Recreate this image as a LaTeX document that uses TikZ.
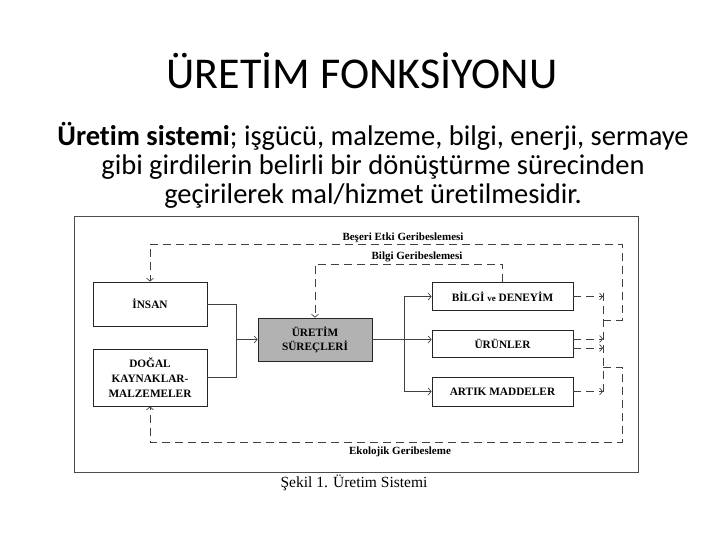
\documentclass[tikz,border=0pt]{standalone}
\usepackage{fontspec}
\setmainfont{Liberation Serif}
\newfontfamily\slidefont[Ligatures=NoCommon]{Carlito}
\usepackage{tikz}
\usetikzlibrary{arrows.meta,positioning}

\begin{document}
\begin{tikzpicture}[x=1pt, y=-1pt,
    box/.style={rectangle, draw=black!85, line width=0.8pt, minimum width=114pt, align=center, inner sep=0pt, font=\bfseries\fontsize{11.3}{15}\selectfont},
    outbox/.style={box, minimum width=141pt, minimum height=28pt},
    arr/.style={-{Straight Barb[length=3pt,width=7pt]}, draw=black!75, line width=0.7pt},
    fb/.style={arr, dash pattern=on 8pt off 5pt},
    fbline/.style={draw=black!75, line width=0.7pt, dash pattern=on 8pt off 5pt},
    lbl/.style={font=\bfseries\fontsize{11}{12}\selectfont}
]
\useasboundingbox (0,0) rectangle (720,540);

% slide text
\node[font=\slidefont\fontsize{44}{50}\selectfont] (title) at (362,71) {ÜRETİM FONKSİYONU};
\node[font=\slidefont\fontsize{28.5}{29}\selectfont, align=center] (body) at (373,165)
  {\textbf{Üretim sistemi}; işgücü, malzeme, bilgi, enerji, sermaye\\
   gibi girdilerin belirli bir dönüştürme sürecinden\\
   geçirilerek mal/hizmet üretilmesidir.};

% figure frame
\draw[black!70, line width=1pt] (74,217) rectangle (638,472);

% inputs, process, outputs
\node[box, minimum height=44pt] (insan) at (150,304) {İNSAN};
\node[box, minimum height=57pt] (dogal) at (150,377.5) {DOĞAL\\KAYNAKLAR-\\MALZEMELER};
\node[box, minimum height=43pt, fill=black!30, font=\bfseries\fontsize{11.3}{14}\selectfont] (surec) at (315,339.5) {ÜRETİM\\SÜREÇLERİ};
\node[outbox] (bilgi) at (502.5,296.5) {BİLGİ {\fontsize{9}{10}\selectfont ve} DENEYİM};
\node[outbox, minimum height=27pt] (urun) at (502.5,344) {ÜRÜNLER};
\node[outbox, minimum height=29pt] (artik) at (502.5,391.5) {ARTIK MADDELER};

% feedback labels
\node[lbl] (besl) at (403,238) {Beşeri Etki Geribeslemesi};
\node[lbl] (bgl) at (417,257) {Bilgi Geribeslemesi};
\node[lbl] (ekl) at (400,452) {Ekolojik Geribesleme};
\node[font=\fontsize{15.5}{18}\selectfont] (cap) at (354,483) {Şekil 1. Üretim Sistemi};

% joints
\coordinate (in) at (236,339.5);
\coordinate (out) at (404,339.5);
\coordinate (coltop) at (603,293);
\coordinate (colbot) at (603,394);
\coordinate (b1) at (603,320);
\coordinate (b2) at (622,244);
\coordinate (g1) at (0,264);
\coordinate (e1) at (603,367);
\coordinate (e2) at (622,442);

% solid flow
\draw[arr, -] (insan.east) -| (in);
\draw[arr, -] (dogal.east) -| (in);
\draw[arr] (in) -- (surec.west);
\draw[arr, -] (surec.east) -- (out);
\draw[arr] (out) |- (bilgi.west);
\draw[arr] (out) -- (out -| urun.west);
\draw[arr] (out) |- (artik.west);

% outputs to collector
\draw[fbline] (coltop) -- (colbot);
\draw[fb] (bilgi.east) -- (bilgi.east -| coltop);
\draw[fb] ([yshift=5pt]urun.east) -- ([yshift=5pt]urun.east -| coltop);
\draw[fb] ([yshift=-4pt]urun.east) -- ([yshift=-4pt]urun.east -| coltop);
\draw[fb] (artik.east) -- (artik.east -| coltop);

% feedback loops
\draw[fb] (b1) -| (b2) -| (insan.north);
\draw[fb] (bilgi.north) -- (bilgi.north |- g1) -| (surec.north);
\draw[fb] (e1) -| (e2) -| (dogal.south);
\end{tikzpicture}
\end{document}
